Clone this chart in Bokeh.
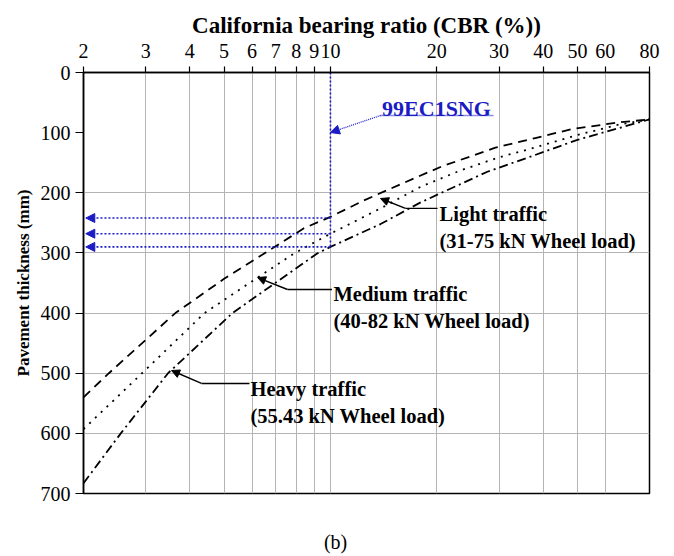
from bokeh.plotting import figure
from bokeh.models import (Range1d, FixedTicker, NumeralTickFormatter, Arrow,
                          NormalHead, LogAxis, CustomJSTickFormatter)
from bokeh.core.properties import value
from bokeh.embed import file_html
from bokeh.resources import INLINE

# Design curves: CBR (%) and required pavement thickness (mm) per traffic class
light_cbr = [2, 2.36, 3.64, 5.0, 6.14, 8.41, 10, 12.4, 17.4, 20.7, 29.3, 38, 48.3, 65.5, 80]
light_mm = [540, 500, 400, 343, 310, 259, 240, 213, 175, 156, 125, 109, 94, 83, 78]

medium_cbr = [2, 2.93, 4.4, 6.22, 7.88, 10, 13.86, 18, 23.3, 30, 36.8, 50, 65, 80]
medium_mm = [593, 500, 400, 341, 301, 268, 226, 190, 163, 141, 127, 104, 87, 78]

heavy_cbr = [2, 2.55, 3.47, 5.28, 9.17, 10, 13.86, 18, 27.8, 36.8, 50, 65, 80]
heavy_mm = [683, 600, 500, 400, 301, 290, 252, 216, 165, 140, 112, 93, 78]

# Subgrade sample read-off: CBR and the thickness for each traffic class
sample_name = "99EC1SNG"
sample_cbr = 10
sample_thickness = [242, 268, 290]

x_ticks = [2, 3, 4, 5, 6, 7, 8, 9, 10, 20, 30, 40, 50, 60, 80]
y_ticks = [0, 100, 200, 300, 400, 500, 600, 700]
y_grid = [200, 300, 400, 500, 600]

SERIF = "Liberation Serif"
BLUE = "#1c1cc4"

p = figure(width=674, height=556, x_axis_type="log", x_axis_location="above",
           x_range=Range1d(2, 80), y_range=Range1d(700, 0),
           output_backend="svg", toolbar_location=None,
           min_border_left=83, min_border_right=25, min_border_top=72,
           min_border_bottom=63)
p.outline_line_color = "black"
p.outline_line_width = 1.5
p.background_fill_color = "white"
p.border_fill_color = "white"

xa = p.xaxis[0]
xa.ticker = FixedTicker(ticks=x_ticks)
xa.formatter = NumeralTickFormatter(format="0")
xa.axis_label = "California bearing ratio (CBR (%))"
ya = p.yaxis[0]
ya.ticker = FixedTicker(ticks=y_ticks)
ya.axis_label = "Pavement thickness (mm)"
for ax in (xa, ya):
    ax.minor_tick_line_color = None
    ax.axis_line_color = "black"
    ax.axis_line_width = 1.5
    ax.major_tick_line_color = "black"
    ax.major_tick_line_width = 1.2
    ax.major_tick_in = 0
    ax.major_label_text_font = SERIF
    ax.major_label_text_font_size = "20px"
    ax.major_label_text_color = "black"
    ax.axis_label_text_font = SERIF
    ax.axis_label_text_font_style = "bold"
    ax.axis_label_text_color = "black"
xa.axis_label_text_font_size = "23px"
ya.axis_label_text_font_size = "17px"
xa.major_tick_out = 6
xa.major_label_standoff = 9
xa.axis_label_standoff = 3
ya.major_tick_out = 8
ya.major_label_standoff = 5
ya.axis_label_standoff = 5

p.xgrid.ticker = FixedTicker(ticks=x_ticks)
p.ygrid.ticker = FixedTicker(ticks=y_grid)
for g in (p.xgrid[0], p.ygrid[0]):
    g.grid_line_color = "#b4b4b4"
    g.grid_line_width = 1

# Design curves
p.line(light_cbr, light_mm, line_color="black", line_width=1.8, line_dash="9 6")
p.line(medium_cbr, medium_mm, line_color="black", line_width=1.8, line_dash="2 6")
p.line(heavy_cbr, heavy_mm, line_color="black", line_width=1.8, line_dash="9 4 2 4")

# Sample read-off: vertical at the sample CBR, arrows to the thickness axis
p.line([sample_cbr, sample_cbr], [0, max(sample_thickness)], line_color=BLUE,
       line_width=1.6, line_dash="2 2")
for t in sample_thickness:
    p.add_layout(Arrow(x_start=sample_cbr, y_start=t, x_end=2.03, y_end=t,
                       line_color=BLUE, line_width=1.6, line_dash="2 2",
                       end=NormalHead(size=9, fill_color=BLUE, line_color=BLUE)))

# Sample tag with its underline and pointer
p.text(x=[14.0], y=[60], text=[sample_name], text_color=BLUE,
       text_font=value(SERIF), text_font_size="22px", text_font_style="bold",
       text_baseline="alphabetic", text_align="left")
p.line([13.86, 28.9], [71.5, 71.5], line_color=BLUE, line_width=1.3, line_dash="1 1")
p.add_layout(Arrow(x_start=13.86, y_start=71.5, x_end=sample_cbr, y_end=99.8,
                   line_color=BLUE, line_width=1.3, line_dash="1 1",
                   end=NormalHead(size=9, fill_color=BLUE, line_color=BLUE)))

# Curve labels with leader arrows
labels = [
    ("Light traffic", "(31-75 kN Wheel load)", 20.36, 235.6,
     [(20.1, 226), (16.31, 226), (13.86, 209.5)]),
    ("Medium traffic", "(40-82 kN Wheel load)", 10.2, 368.6,
     [(10.1, 360.8), (7.56, 360.8), (6.22, 340.9)]),
    ("Heavy traffic", "(55.43 kN Wheel load)", 5.94, 526.6,
     [(5.9, 517), (4.315, 517), (3.55, 495.5)]),
]
for l1, l2, lx, ly, leader in labels:
    p.text(x=[lx, lx], y=[ly, ly + 45], text=[l1, l2], text_color="black",
           text_font=value(SERIF), text_font_size="20.5px", text_font_style="bold",
           text_baseline="alphabetic", text_align="left")
    (x0, y0), (x1, y1), (x2, y2) = leader
    p.line([x0, x1], [y0, y1], line_color="black", line_width=1.4)
    p.add_layout(Arrow(x_start=x1, y_start=y1, x_end=x2, y_end=y2,
                       line_color="black", line_width=1.4,
                       end=NormalHead(size=8, fill_color="black", line_color="black")))

# Panel tag "(b)" under the plot, drawn as the single label of a bare axis
tag_position = 10.34
tag_axis = LogAxis(ticker=FixedTicker(ticks=[tag_position]),
                   formatter=CustomJSTickFormatter(code="return '(b)'"),
                   axis_line_color=None, major_tick_line_color=None,
                   minor_tick_line_color=None, major_tick_in=0, major_tick_out=0,
                   major_label_standoff=37, major_label_text_font=SERIF,
                   major_label_text_font_size="20px",
                   major_label_text_color="black")
p.add_layout(tag_axis, "below")

open("out.html", "w").write(file_html(p, INLINE))
